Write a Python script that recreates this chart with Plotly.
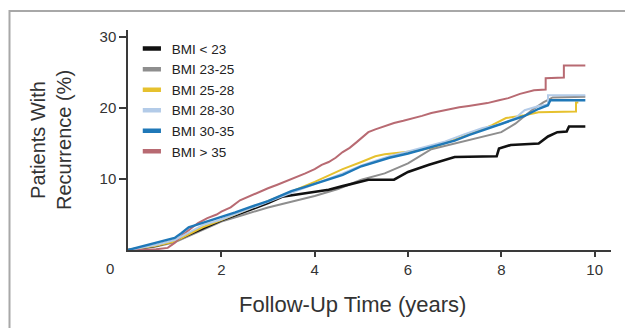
import plotly.graph_objects as go

# ---- data ----
series_names = ["BMI < 23", "BMI 23-25", "BMI 25-28", "BMI 28-30", "BMI 30-35", "BMI > 35"]

t_bmi_lt23 = [0, 0.3, 0.6, 1.0, 1.3, 1.6, 2.0, 2.5, 3.0, 3.3, 3.6, 4.0, 4.3, 4.6, 5.0, 5.15, 5.7, 6.0, 6.45, 7.0, 7.9, 7.95, 8.2, 8.8, 9.0, 9.2, 9.4, 9.45, 9.8]
v_bmi_lt23 = [0, 0.3, 0.6, 1.3, 2.2, 3.0, 4.2, 5.4, 6.6, 7.5, 7.8, 8.1, 8.5, 9.0, 9.7, 9.9, 9.9, 11.0, 12.0, 13.1, 13.2, 14.3, 14.8, 15.0, 16.0, 16.6, 16.7, 17.4, 17.4]

t_bmi_23_25 = [0, 0.3, 0.6, 1.0, 1.3, 1.6, 2.0, 2.5, 3.0, 3.5, 4.0, 4.5, 5.0, 5.5, 6.0, 6.5, 7.0, 7.5, 8.0, 8.3, 8.65, 8.9, 9.1, 9.8]
v_bmi_23_25 = [0, 0.2, 0.5, 1.1, 2.0, 2.9, 4.0, 5.0, 6.0, 6.8, 7.6, 8.6, 9.9, 10.8, 12.2, 14.2, 15.0, 15.8, 16.6, 17.8, 19.7, 20.8, 21.5, 21.6]

t_bmi_25_28 = [0, 0.3, 0.6, 1.0, 1.3, 1.6, 2.0, 2.3, 2.6, 3.0, 3.3, 3.6, 4.0, 4.3, 4.6, 5.0, 5.3, 5.5, 5.8, 6.2, 6.6, 7.0, 7.4, 7.8, 8.1, 8.5, 8.8, 9.6, 9.6, 9.65]
v_bmi_25_28 = [0, 0.3, 0.6, 1.2, 2.2, 3.2, 4.2, 5.0, 5.8, 6.8, 7.7, 8.5, 9.6, 10.5, 11.4, 12.4, 13.2, 13.5, 13.7, 14.0, 14.6, 15.5, 16.5, 17.6, 18.6, 19.0, 19.4, 19.5, 20.8, 20.8]

t_bmi_28_30 = [0, 0.3, 0.6, 1.0, 1.3, 1.6, 2.0, 2.3, 2.6, 3.0, 3.3, 3.6, 4.0, 4.3, 4.6, 5.0, 5.3, 5.6, 6.0, 6.4, 6.8, 7.2, 7.6, 8.0, 8.3, 8.5, 8.8, 9.0, 9.0, 9.8]
v_bmi_28_30 = [0, 0.3, 0.7, 1.4, 2.5, 3.5, 4.3, 5.0, 5.8, 6.8, 7.6, 8.3, 9.3, 10.0, 10.8, 11.9, 12.6, 13.2, 13.9, 14.6, 15.3, 16.3, 17.2, 17.7, 18.6, 19.7, 20.3, 20.5, 21.8, 21.8]

t_bmi_30_35 = [0, 0.25, 0.5, 0.75, 1.0, 1.15, 1.3, 1.5, 1.7, 2.0, 2.3, 2.6, 3.0, 3.25, 3.5, 3.8, 4.0, 4.3, 4.6, 5.0, 5.3, 5.6, 6.0, 6.4, 6.7, 7.0, 7.3, 7.6, 7.9, 8.2, 8.5, 8.8, 9.0, 9.05, 9.8]
v_bmi_30_35 = [0, 0.4, 0.85, 1.2, 1.7, 2.4, 3.2, 3.6, 4.0, 4.6, 5.3, 6.0, 6.9, 7.6, 8.3, 8.9, 9.3, 9.9, 10.6, 11.8, 12.4, 13.0, 13.6, 14.3, 14.8, 15.4, 16.2, 16.9, 17.5, 18.3, 18.9, 19.9, 20.4, 21.1, 21.1]

t_bmi_gt35 = [0, 0.3, 0.6, 0.85, 1.0, 1.15, 1.3, 1.5, 1.7, 1.9, 2.0, 2.2, 2.4, 2.6, 2.8, 3.0, 3.2, 3.4, 3.6, 3.8, 4.0, 4.15, 4.3, 4.45, 4.6, 4.75, 4.9, 5.0, 5.15, 5.3, 5.5, 5.7, 5.9, 6.1, 6.3, 6.5, 6.7, 6.9, 7.1, 7.3, 7.5, 7.7, 7.95, 8.15, 8.4, 8.7, 8.95, 8.95, 9.34, 9.34, 9.8]
v_bmi_gt35 = [0, 0.05, 0.1, 0.3, 1.0, 2.0, 2.8, 3.8, 4.5, 5.0, 5.4, 6.0, 7.0, 7.6, 8.2, 8.7, 9.2, 9.7, 10.2, 10.8, 11.4, 12.0, 12.4, 13.0, 13.8, 14.4, 15.2, 15.8, 16.6, 17.0, 17.5, 17.9, 18.2, 18.5, 18.9, 19.3, 19.6, 19.8, 20.1, 20.3, 20.5, 20.7, 21.1, 21.4, 22.0, 22.5, 22.6, 24.2, 24.3, 26.0, 26.0]

x_tick_vals = [2, 4, 6, 8, 10]
y_tick_vals = [10, 20, 30]

# ---- styles ----
colors = ["#111111", "#8e8e8e", "#e6c12e", "#b3cbe8", "#1f78b8", "#b86a72"]
widths = [2.6, 2.0, 2.0, 2.0, 2.4, 2.0]

ts = [t_bmi_lt23, t_bmi_23_25, t_bmi_25_28, t_bmi_28_30, t_bmi_30_35, t_bmi_gt35]
vs = [v_bmi_lt23, v_bmi_23_25, v_bmi_25_28, v_bmi_28_30, v_bmi_30_35, v_bmi_gt35]

fig = go.Figure()
for i in [1, 0, 2, 5, 3, 4]:
    fig.add_trace(go.Scatter(x=ts[i], y=vs[i], mode="lines", line=dict(color=colors[i], width=widths[i]),
                             name=series_names[i], showlegend=False, hoverinfo="skip"))
for i in range(6):
    fig.add_trace(go.Scatter(x=[None], y=[None], mode="markers", name=series_names[i],
                             marker=dict(symbol="line-ew-open", size=13, color=colors[i],
                                         line=dict(color=colors[i], width=4.5)),
                             showlegend=True))

axis_col = "#3a3a3a"
fig.update_layout(
    width=625, height=328,
    margin=dict(l=128, r=14, t=30, b=78),
    paper_bgcolor="white", plot_bgcolor="white",
    font=dict(family="Liberation Sans, Arial, sans-serif", color="#333333"),
    xaxis=dict(range=[0, 10.35], tickvals=x_tick_vals, ticks="outside", ticklen=5, tickwidth=1.5,
               tickcolor=axis_col, showline=True, linecolor=axis_col, linewidth=1.5,
               showgrid=False, zeroline=False, tickfont=dict(size=15, color="#333333")),
    yaxis=dict(range=[0, 31], tickvals=y_tick_vals, ticks="outside", ticklen=7, tickwidth=1.5,
               tickcolor=axis_col, showline=True, linecolor=axis_col, linewidth=1.5,
               showgrid=False, zeroline=False, tickfont=dict(size=15, color="#333333")),
    legend=dict(x=0.008, y=0.985, xanchor="left", yanchor="top", bgcolor="rgba(0,0,0,0)",
                font=dict(size=13.5, color="#222222"), itemwidth=30, tracegroupgap=0),
    showlegend=True,
)

fig.add_annotation(x=(110 - 128) / 483, y=(250 - 268) / 220, xref="paper", yref="paper", text="0",
                   showarrow=False, font=dict(size=15, color="#333333"), xanchor="center", yanchor="middle")
fig.add_annotation(x=(352 - 128) / 483, y=(250 - 304) / 220, xref="paper", yref="paper",
                   text="Follow-Up Time (years)", showarrow=False,
                   font=dict(size=22, color="#333333"), xanchor="center", yanchor="middle")
fig.add_annotation(x=(51 - 128) / 483, y=0.5, xref="paper", yref="paper",
                   text="Patients With<br>Recurrence (%)", showarrow=False, textangle=-90,
                   font=dict(size=20, color="#333333"), xanchor="center", yanchor="middle")
fig.add_shape(type="rect", xref="paper", yref="paper",
              x0=(9.5 - 128) / 483, x1=(640 - 128) / 483, y0=(250 - 340) / 220, y1=(250 - 11) / 220,
              line=dict(color="#a8a8a8", width=2), fillcolor="rgba(0,0,0,0)", layer="below")

fig.write_html("out.html")
